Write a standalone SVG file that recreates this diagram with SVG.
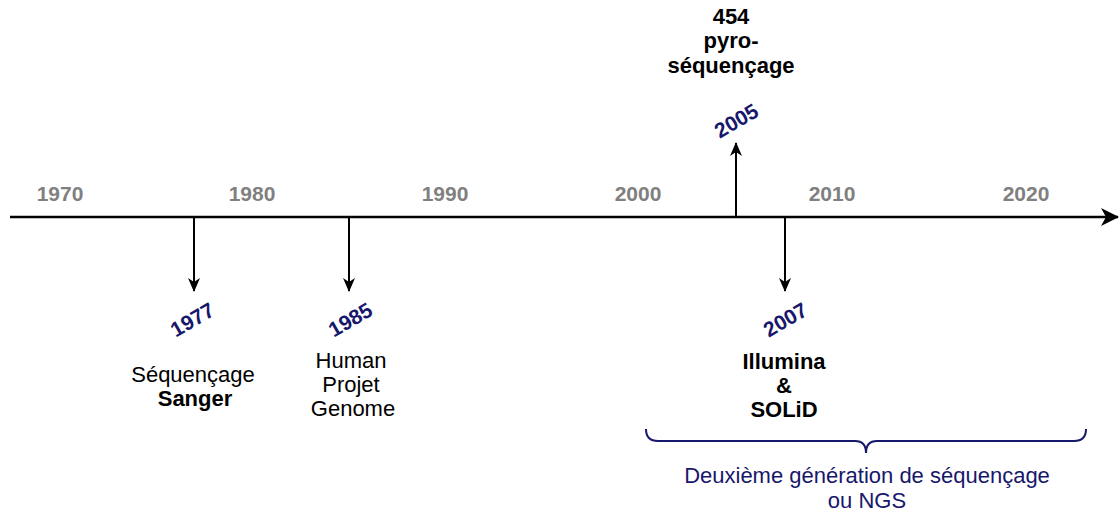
<svg xmlns="http://www.w3.org/2000/svg" width="1120" height="514" viewBox="0 0 1120 514">
<defs>
<marker id="ah" viewBox="0 0 14 12" refX="13" refY="6" markerWidth="14" markerHeight="12" markerUnits="userSpaceOnUse" orient="auto">
<path d="M0,0 L14,6 L0,12 L4,6 Z" fill="#000"/>
</marker>
<marker id="ahBig" viewBox="0 0 18 18" refX="17" refY="9" markerWidth="18" markerHeight="18" markerUnits="userSpaceOnUse" orient="auto">
<path d="M0,0 L18,9 L0,18 L5,9 Z" fill="#000"/>
</marker>
</defs>
<style>
text{font-family:"Liberation Sans",Arial,Helvetica,sans-serif;text-anchor:middle}
.dec{font-size:21px;font-weight:bold;fill:#808080}
.yr{font-size:21px;font-weight:bold;fill:#17176b}
.lbl{font-size:22px;fill:#000}
.b{font-weight:bold}
.navy{font-size:22px;fill:#17176b}
.arr{stroke:#000;stroke-width:2;fill:none;marker-end:url(#ah)}
</style>
<rect width="1120" height="514" fill="#fff"/>
<g id="axis">
<line x1="10" y1="217" x2="1118" y2="217" stroke="#000" stroke-width="2.5" marker-end="url(#ahBig)"/>
<text class="dec" x="60" y="201">1970</text>
<text class="dec" x="252" y="201">1980</text>
<text class="dec" x="445" y="201">1990</text>
<text class="dec" x="638" y="201">2000</text>
<text class="dec" x="832" y="201">2010</text>
<text class="dec" x="1026" y="201">2020</text>
</g>
<g id="connectors">
<line class="arr" x1="194" y1="217" x2="194" y2="291"/>
<line class="arr" x1="349" y1="217" x2="349" y2="291"/>
<line class="arr" x1="736" y1="217" x2="736" y2="143"/>
<line class="arr" x1="785" y1="217" x2="785" y2="291"/>
</g>
<g id="e1977">
<text class="yr" transform="translate(196,326) rotate(-30)">1977</text>
<text class="lbl" x="193" y="382">Séquençage</text>
<text class="lbl b" x="195" y="406">Sanger</text>
</g>
<g id="e1985">
<text class="yr" transform="translate(354,326) rotate(-30)">1985</text>
<text class="lbl" x="351" y="368">Human</text>
<text class="lbl" x="351" y="392">Projet</text>
<text class="lbl" x="353" y="416">Genome</text>
</g>
<g id="e2005">
<text class="yr" transform="translate(740,127) rotate(-30)">2005</text>
<text class="lbl b" x="731" y="24">454</text>
<text class="lbl b" x="731" y="48">pyro-</text>
<text class="lbl b" x="731" y="73">séquençage</text>
</g>
<g id="e2007">
<text class="yr" transform="translate(789,326) rotate(-30)">2007</text>
<text class="lbl b" x="784" y="369">Illumina</text>
<text class="lbl b" x="784" y="393">&amp;</text>
<text class="lbl b" x="784" y="417">SOLiD</text>
</g>
<g id="ngs">
<path d="M646,429 Q646,441 658,441 L855,441 Q866,441 866,453 Q866,441 877,441 L1074,441 Q1086,441 1086,429" fill="none" stroke="#17176b" stroke-width="2"/>
<text class="navy" x="867" y="483">Deuxième génération de séquençage</text>
<text class="navy" x="867" y="508">ou NGS</text>
</g>
</svg>
